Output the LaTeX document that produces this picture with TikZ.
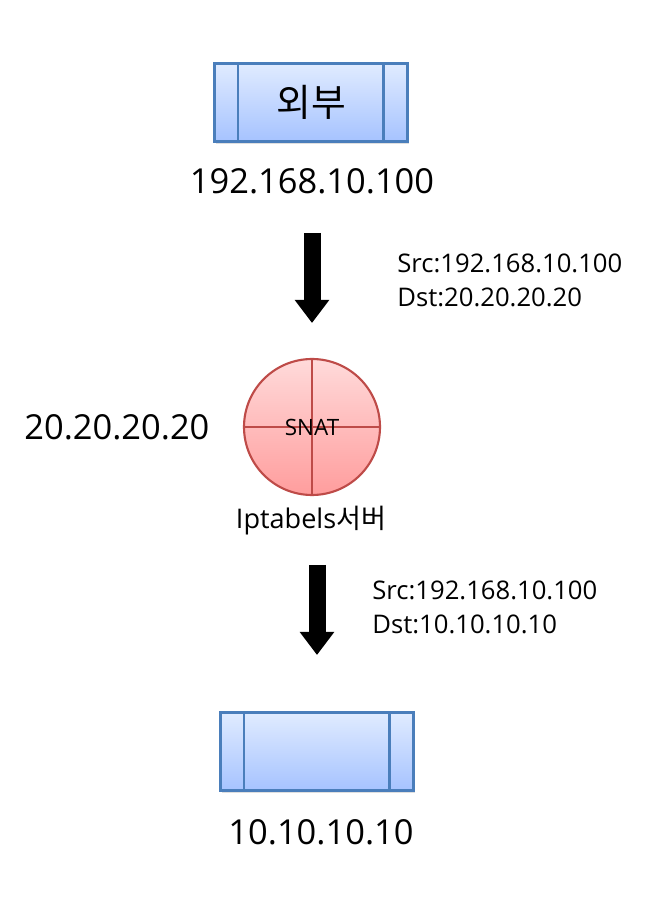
\documentclass[tikz,border=0pt]{standalone}
\usepackage{fontspec}
\setmainfont{Open Sans}
\newfontfamily\kr{Noto Sans CJK KR}
\usepackage{tikz}
\usetikzlibrary{arrows.meta, positioning, shadows}
\definecolor{boxtop}{RGB}{224,235,255}
\definecolor{boxbot}{RGB}{166,195,255}
\definecolor{boxline}{RGB}{74,126,187}
\definecolor{snattop}{RGB}{255,218,218}
\definecolor{snatbot}{RGB}{255,157,157}
\definecolor{snatline}{RGB}{190,75,72}
\tikzset{
  hostbox/.style={rectangle, minimum width=3.86cm, minimum height=1.56cm, inner sep=0pt,
    top color=boxtop, bottom color=boxbot, draw=boxline, line width=1.3pt,
    drop shadow={opacity=0.25, shadow xshift=0.03cm, shadow yshift=-0.06cm},
    path picture={
      \draw[boxline, line width=1.3pt]
        ([xshift=0.47cm]path picture bounding box.north west) -- ([xshift=0.47cm]path picture bounding box.south west)
        ([xshift=-0.48cm]path picture bounding box.north east) -- ([xshift=-0.48cm]path picture bounding box.south east);
    }},
  snatnode/.style={circle, minimum size=2.72cm, inner sep=0pt,
    top color=snattop, bottom color=snatbot, draw=snatline, line width=1.2pt,
    font=\fontsize{12.8}{15}\selectfont,
    path picture={
      \draw[snatline, line width=1.2pt]
        (path picture bounding box.north) -- (path picture bounding box.south)
        (path picture bounding box.west) -- (path picture bounding box.east);
    }},
  iplabel/.style={font=\fontsize{19.6}{23}\selectfont, inner sep=0pt},
  pktlabel/.style={font=\fontsize{14.6}{19.3}\selectfont, align=left, anchor=west, inner sep=0pt},
  flow/.style={line width=0.34cm, -{Triangle[width=0.66cm, length=0.46cm]}}
}
\begin{document}
\begin{tikzpicture}
  \useasboundingbox (0,0) rectangle (13.08,18.26);
  % hosts
  \node[hostbox] (ext) at (6.22,16.21) {\kr\fontsize{21.5}{25}\selectfont 외부};
  \node[iplabel] (extip) at (6.24,14.64) {192.168.10.100};
  \node[snatnode] (snat) at (6.24,9.72) {SNAT};
  \node[iplabel, anchor=west] (snatip) at (0.48,9.72) {20.20.20.20};
  \node[font=\fontsize{15.4}{18}\selectfont, inner sep=0pt] (srvname) at (6.22,7.84) {Iptabels{\kr 서버}};
  \node[hostbox] (inner) at (6.34,3.23) {};
  \node[iplabel] (innerip) at (6.42,1.62) {10.10.10.10};
  % packet flow
  \coordinate (f1s) at (6.24,13.60);
  \coordinate (f1e) at (6.24,11.80);
  \coordinate (f2s) at (6.34,6.96);
  \coordinate (f2e) at (6.34,5.16);
  \draw[flow] (f1s) -- (f1e);
  \draw[flow] (f2s) -- (f2e);
  \node[pktlabel] (pkt1) at (7.94,12.66) {Src:192.168.10.100\\Dst:20.20.20.20};
  \node[pktlabel] (pkt2) at (7.44,6.12) {Src:192.168.10.100\\Dst:10.10.10.10};
\end{tikzpicture}
\end{document}
